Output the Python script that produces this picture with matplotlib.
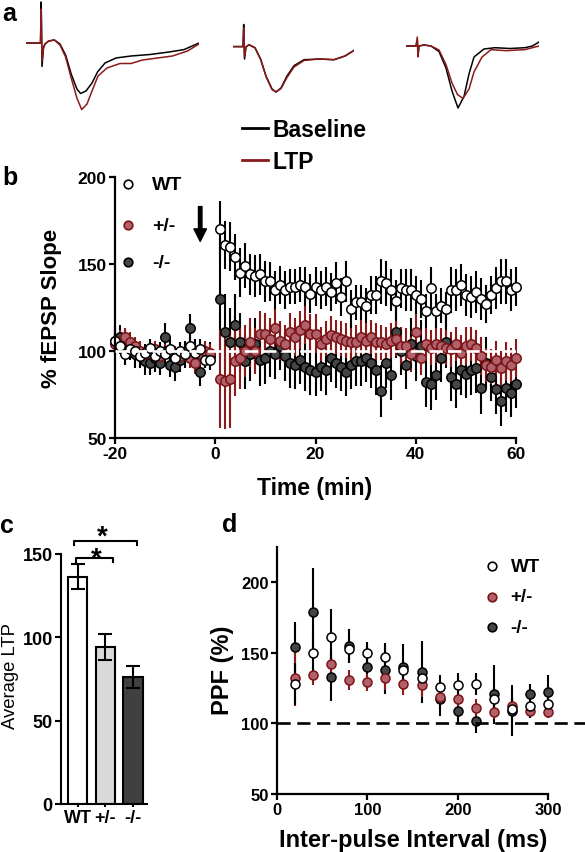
import numpy as np
import matplotlib
matplotlib.use('Agg')
import matplotlib.pyplot as plt
from matplotlib.lines import Line2D

plt.rcParams['font.family'] = ['Liberation Sans', 'DejaVu Sans']
plt.rcParams['axes.unicode_minus'] = False

# ---------------- data ----------------
# panel a: example fEPSP traces (time in ms, amplitude in mV)
tr1_base_t = [0, 1.15, 1.45, 1.52, 1.6, 1.75, 1.9, 2.27, 2.84, 3.4, 3.96, 4.52, 5.09, 5.46, 6.0, 6.6, 7.15, 7.9, 9.0, 10.5, 12.4, 14.3, 15.8, 17.3]
tr1_base_v = [0, 0, 0, 0.41, -0.235, -0.05, -0.01, 0.02, 0.03, -0.01, -0.12, -0.31, -0.46, -0.505, -0.48, -0.40, -0.29, -0.20, -0.15, -0.13, -0.115, -0.09, -0.066, 0]
tr1_ltp_t = [0, 1.15, 1.45, 1.52, 1.6, 1.75, 1.9, 2.27, 2.84, 3.4, 3.96, 4.52, 5.09, 5.57, 6.1, 6.6, 7.2, 8.1, 9.4, 10.5, 11.65, 13.15, 14.65, 16.15, 17.3]
tr1_ltp_v = [0, 0, 0, 0.34, -0.18, -0.04, -0.01, 0.02, 0.03, -0.02, -0.14, -0.35, -0.55, -0.666, -0.61, -0.48, -0.33, -0.25, -0.205, -0.205, -0.17, -0.15, -0.13, -0.08, -0.01]

tr2_t = [0, 1.0, 1.07, 1.15, 1.3, 1.6, 2.2, 2.76, 3.3, 3.9, 4.3, 4.8, 5.4, 6.1, 7.1, 8.6, 10.1, 11.2, 12.1]
tr2_base_v = [-0.036, -0.036, 0.185, -0.16, -0.04, -0.017, -0.047, -0.16, -0.33, -0.46, -0.49, -0.45, -0.33, -0.227, -0.167, -0.16, -0.167, -0.13, -0.074]
tr2_ltp_v = [-0.036, -0.036, 0.15, -0.14, -0.04, -0.017, -0.05, -0.165, -0.335, -0.465, -0.49, -0.455, -0.345, -0.24, -0.175, -0.16, -0.167, -0.13, -0.074]

tr3_base_t = [0, 1.0, 1.13, 1.2, 1.3, 1.8, 2.5, 3.3, 4.0, 4.6, 5.2, 5.8, 6.3, 6.8, 7.8, 8.9, 10.4, 11.9, 12.65, 13.3]
tr3_base_v = [-0.03, -0.03, 0.03, -0.12, -0.03, -0.02, -0.03, -0.085, -0.25, -0.48, -0.65, -0.535, -0.31, -0.14, -0.06, -0.047, -0.055, -0.047, -0.03, 0.01]
tr3_ltp_t = [0, 1.0, 1.13, 1.2, 1.3, 1.8, 2.5, 3.3, 4.0, 4.6, 5.15, 5.7, 6.3, 6.8, 7.6, 8.5, 10.0, 11.9, 13.3]
tr3_ltp_v = [-0.03, -0.03, 0.06, -0.14, -0.03, -0.02, -0.03, -0.07, -0.216, -0.40, -0.516, -0.554, -0.46, -0.29, -0.14, -0.066, -0.077, -0.066, -0.03]

# panel b: LTP time course (% fEPSP slope)
time_min = list(range(-20, 0)) + list(range(1, 61))
wt_ltp = [106, 103, 98, 101, 100, 97, 99, 102, 97, 100, 98, 101, 96, 100, 98, 103, 99, 101, 95, 95,
          170, 161, 160, 154, 145, 149, 144, 143, 144, 140, 140, 135, 138, 135, 137, 137, 138, 137, 133, 137,
          135, 137, 134, 139, 131, 140, 124, 128, 128, 126, 132, 132, 140, 139, 135, 129, 136, 135, 135, 132,
          130, 123, 136, 123, 126, 124, 135, 135, 138, 132, 131, 134, 130, 127, 132, 136, 140, 140, 135, 137]
wt_ltp_err = [5, 5, 6, 5, 5, 6, 5, 5, 6, 5, 5, 6, 5, 5, 6, 5, 5, 6, 5, 5,
              16, 14, 14, 13, 14, 13, 12, 12, 12, 12, 11, 11, 11, 11, 10, 10, 10, 11, 11, 11,
              11, 11, 11, 12, 11, 12, 11, 10, 10, 10, 11, 11, 13, 13, 12, 12, 11, 12, 12, 11,
              11, 10, 12, 10, 10, 10, 13, 12, 12, 12, 12, 12, 12, 11, 11, 12, 13, 13, 12, 11]
het_ltp = [104, 106, 108, 105, 103, 100, 98, 99, 101, 97, 99, 100, 98, 97, 99, 96, 93, 98, 100, 99,
           84, 83, 84, 94, 96, 100, 105, 100, 110, 110, 107, 113, 106, 104, 111, 108, 112, 115, 110, 110,
           104, 107, 109, 108, 107, 106, 105, 105, 108, 106, 108, 105, 105, 104, 106, 107, 103, 103, 98, 111,
           96, 104, 102, 104, 103, 102, 101, 104, 99, 103, 104, 102, 97, 92, 91, 95, 90, 94, 92, 96]
het_ltp_err = [6, 6, 5, 6, 5, 6, 5, 6, 5, 6, 5, 6, 5, 6, 5, 6, 6, 5, 6, 5,
               28, 28, 28, 20, 18, 15, 14, 13, 13, 12, 12, 12, 11, 11, 11, 11, 11, 11, 11, 11,
               10, 10, 11, 10, 10, 10, 11, 10, 10, 10, 10, 11, 10, 10, 10, 10, 11, 10, 10, 11,
               10, 10, 10, 11, 10, 10, 10, 10, 10, 11, 10, 10, 11, 10, 10, 11, 10, 11, 10, 11]
ko_ltp = [106, 108, 104, 102, 98, 97, 94, 93, 96, 93, 108, 92, 91, 95, 98, 113, 100, 88, 97, 97,
          130, 111, 105, 115, 105, 94, 98, 104, 95, 96, 100, 98, 103, 97, 93, 92, 95, 91, 89, 88,
          91, 89, 96, 93, 91, 88, 92, 94, 94, 96, 93, 89, 77, 93, 86, 111, 100, 92, 104, 97,
          103, 82, 81, 86, 96, 105, 85, 81, 89, 87, 89, 90, 79, 93, 85, 78, 71, 79, 76, 81]
ko_ltp_err = [7, 7, 8, 7, 8, 7, 8, 7, 8, 7, 8, 7, 8, 7, 8, 8, 7, 8, 7, 8,
              35, 22, 20, 18, 17, 16, 15, 15, 15, 15, 15, 14, 14, 14, 14, 14, 14, 14, 14, 14,
              14, 14, 14, 14, 14, 14, 14, 14, 14, 14, 14, 14, 15, 14, 14, 15, 14, 14, 15, 14,
              15, 14, 15, 14, 14, 15, 14, 14, 14, 14, 14, 14, 15, 15, 14, 14, 14, 14, 14, 14]

# panel c: average LTP
genotypes = ['WT', '+/-', '-/-']
avg_ltp = [136.5, 94.5, 76]
avg_ltp_err = [7.3, 7.8, 6.6]

# panel d: paired-pulse facilitation
ipi_ms = [20, 40, 60, 80, 100, 120, 140, 160, 180, 200, 220, 240, 260, 280, 300]
wt_ppf = [128, 150, 161, 153, 150, 147, 138, 132, 126, 127.5, 128, 117, 110, 112, 114]
wt_ppf_err = [15, 14, 20, 10, 8, 10, 8, 8, 8, 8, 8, 8, 8, 8, 8]
het_ppf = [132, 134, 142, 131, 129, 132, 128, 127, 119, 117, 111, 108, 112, 109, 108]
het_ppf_err = [20, 7, 10, 7, 6, 8, 8, 8, 5, 5, 6, 5, 5, 5, 4]
ko_ppf = [154, 179, 133, 155, 140, 137.6, 140, 136.4, 117, 109, 102, 120.6, 109, 120.6, 122]
ko_ppf_err = [18, 31, 17, 12, 15, 17, 16, 22, 12, 9, 9, 21, 18, 7, 12]

# ---------------- style ----------------
RED_EDGE = '#7b1416'
RED_FILL = '#b0616a'
RED_ERR = '#8b1a1a'
DARK_FILL = '#454545'
W, H = 585, 853

fig = plt.figure(figsize=(W / 100, H / 100), dpi=100)


def px_axes(x0, y0, x1, y1):
    return fig.add_axes([x0 / W, 1 - y1 / H, (x1 - x0) / W, (y1 - y0) / H])


def style_axes(ax, lw=1.6, size=12.5):
    for s in ['top', 'right']:
        ax.spines[s].set_visible(False)
    for s in ['left', 'bottom']:
        ax.spines[s].set_linewidth(lw)
    ax.tick_params(width=lw, length=4, labelsize=size, pad=2)
    for lab in ax.get_xticklabels() + ax.get_yticklabels():
        lab.set_fontweight('bold')


def panel_label(x, y, s):
    fig.text(x / W, 1 - y / H, s, fontsize=18, fontweight='bold', va='baseline', ha='left')


# ---------------- panel a ----------------
traces = [((26, 199), tr1_base_t, tr1_base_v, tr1_ltp_t, tr1_ltp_v),
          ((233, 354), tr2_t, tr2_base_v, tr2_t, tr2_ltp_v),
          ((406, 539), tr3_base_t, tr3_base_v, tr3_ltp_t, tr3_ltp_v)]
for (x0, x1), bt, bv, lt, lv in traces:
    ax = px_axes(x0, 0, x1, 180)
    ax.plot(bt, bv, color='black', lw=1.1)
    ax.plot(lt, lv, color=RED_ERR, lw=1.1)
    ax.set_xlim(0, (x1 - x0) / 10)
    ax.set_ylim(-1.36, 0.44)
    ax.axis('off')

for yy, col, lab in [(129, 'black', 'Baseline'), (160.5, RED_ERR, 'LTP')]:
    fig.add_artist(Line2D([242 / W, 268 / W], [1 - yy / H, 1 - yy / H], color=col, lw=2))
    fig.text(273 / W, 1 - (yy + 8.5) / H, lab, fontsize=16.5, fontweight='bold', va='baseline')

panel_label(2, 21, 'a')

# ---------------- panel b ----------------
axb = px_axes(115, 178, 516, 439)
series_b = [(ko_ltp, ko_ltp_err, DARK_FILL, 'black', 'black'),
            (het_ltp, het_ltp_err, RED_FILL, RED_EDGE, RED_ERR),
            (wt_ltp, wt_ltp_err, 'white', 'black', 'black')]
for vals, err, fc, ec, errc in series_b:
    axb.errorbar(time_min, vals, yerr=err, fmt='o', ms=6.8, mfc=fc, mec=ec, mew=1.1,
                 ecolor=errc, elinewidth=1.5, capsize=0, clip_on=False)
axb.axhline(100, color='white', lw=1.9, ls=(0, (5, 2)), zorder=10)
axb.set_xlim(-20, 60)
axb.set_ylim(50, 200)
axb.set_xticks([-20, 0, 20, 40, 60])
axb.set_yticks([50, 100, 150, 200])
style_axes(axb, size=12.5)
axb.annotate('', xy=(-3, 163), xytext=(-3, 183),
             arrowprops=dict(facecolor='black', edgecolor='black', width=2.5, headwidth=9, headlength=9, shrink=0))
for yf, fc, ec, lab in [(0.973, 'white', 'black', 'WT'), (0.816, RED_FILL, RED_EDGE, '+/-'),
                        (0.674, DARK_FILL, 'black', '-/-')]:
    axb.plot([0.032], [yf], 'o', ms=6.2, mfc=fc, mec=ec, mew=1.2, transform=axb.transAxes, clip_on=False)
    axb.text(0.093, yf, lab, transform=axb.transAxes, fontsize=14, fontweight='bold', va='center')
fig.text(315 / W, 1 - 495 / H, 'Time (min)', fontsize=16.5, fontweight='bold', ha='center', va='baseline')
fig.text(52 / W, 1 - 308 / H, '% fEPSP Slope', fontsize=16, fontweight='bold', rotation=90,
         ha='center', va='center')
panel_label(2, 185, 'b')

# ---------------- panel c ----------------
axc = px_axes(61, 555, 147, 805)
bar_x = np.arange(len(genotypes))
axc.bar(bar_x, avg_ltp, width=0.7, color=['white', '#d9d9d9', '#404040'], edgecolor='black', lw=1.5)
axc.errorbar(bar_x, avg_ltp, yerr=avg_ltp_err, fmt='none', ecolor='black', elinewidth=1.5,
             capsize=5, capthick=1.5)
axc.set_xlim(-0.6, 2.5)
axc.set_ylim(0, 150)
axc.set_yticks([0, 50, 100, 150])
axc.set_xticks(bar_x)
axc.set_xticklabels(genotypes)
style_axes(axc, lw=1.5, size=13)
axc.tick_params(axis='x', length=2.5, pad=1)
# significance brackets
axc.plot([-0.13, -0.13, 2.15, 2.15], [155.4, 157.8, 157.8, 155.4], color='black', lw=1.5, clip_on=False)
axc.plot([-0.05, -0.05, 1.28, 1.28], [145, 147.6, 147.6, 145], color='black', lw=1.5, clip_on=False)
axc.text(0.89, 156.5, '*', fontsize=20, fontweight='bold', ha='center', va='baseline')
axc.text(0.67, 142.8, '*', fontsize=20, fontweight='bold', ha='center', va='baseline')
fig.text(11 / W, 1 - 676 / H, 'Average LTP', fontsize=13.3, rotation=90, ha='center', va='center')
panel_label(0, 533, 'c')

# ---------------- panel d ----------------
axd = px_axes(277, 548, 548, 795)
series_d = [(ko_ppf, ko_ppf_err, DARK_FILL, 'black', 'black'),
            (het_ppf, het_ppf_err, RED_FILL, RED_EDGE, RED_ERR),
            (wt_ppf, wt_ppf_err, 'white', 'black', 'black')]
for vals, err, fc, ec, errc in series_d:
    axd.errorbar(ipi_ms, vals, yerr=err, fmt='o', ms=6.5, mfc=fc, mec=ec, mew=1.1,
                 ecolor=errc, elinewidth=1.5, capsize=0, clip_on=False)
axd.plot([0, 345], [100, 100], color='black', lw=1.9, ls=(0, (5, 2.5)), clip_on=False, zorder=5)
axd.set_xlim(0, 300)
axd.set_ylim(50, 225)
axd.set_xticks([0, 100, 200, 300])
axd.set_yticks([50, 100, 150, 200])
style_axes(axd, size=12)
for yf, fc, ec, lab in [(0.923, 'white', 'black', 'WT'), (0.798, RED_FILL, RED_EDGE, '+/-'),
                        (0.676, DARK_FILL, 'black', '-/-')]:
    axd.plot([0.793], [yf], 'o', ms=6.2, mfc=fc, mec=ec, mew=1.2, transform=axd.transAxes, clip_on=False)
    axd.text(0.862, yf, lab, transform=axd.transAxes, fontsize=13.5, fontweight='bold', va='center')
fig.text(413 / W, 1 - 847 / H, 'Inter-pulse Interval (ms)', fontsize=17, fontweight='bold',
         ha='center', va='baseline')
fig.text(223 / W, 1 - 670 / H, 'PPF (%)', fontsize=17, fontweight='bold', rotation=90,
         ha='center', va='center')
panel_label(222, 532, 'd')

fig.savefig('out.png', dpi=100)
